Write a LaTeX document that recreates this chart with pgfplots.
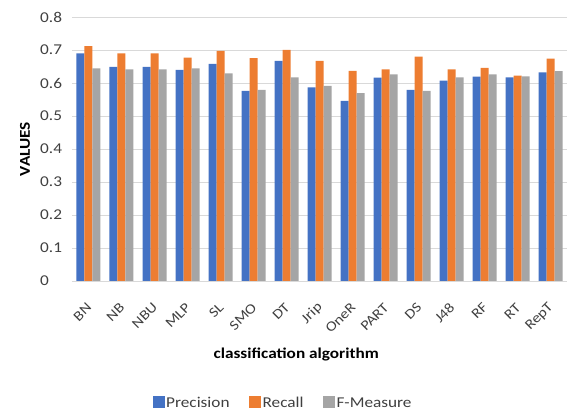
\documentclass[border=0pt]{standalone}
\usepackage{fontspec}
\setmainfont{Carlito}[FakeStretch=1.15]
\usepackage{pgfplots}
\usepackage{pgfplotstable}
\pgfplotsset{compat=1.18}

\definecolor{precblue}{HTML}{4472C4}
\definecolor{recorange}{HTML}{ED7D31}
\definecolor{fmgray}{HTML}{A5A5A5}
\definecolor{gridgray}{HTML}{D9D9D9}
\definecolor{labelgray}{HTML}{404040}

% Precision, recall and F-measure of each classification algorithm
\pgfplotstableread{
idx name P     R     F
0   BN   0.690 0.712 0.644
1   NB   0.649 0.690 0.641
2   NBU  0.649 0.690 0.641
3   MLP  0.640 0.677 0.644
4   SL   0.658 0.697 0.629
5   SMO  0.576 0.675 0.579
6   DT   0.667 0.700 0.617
7   Jrip 0.587 0.667 0.591
8   OneR 0.546 0.637 0.569
9   PART 0.616 0.641 0.626
10  DS   0.579 0.680 0.576
11  J48  0.607 0.641 0.617
12  RF   0.619 0.646 0.626
13  RT   0.617 0.622 0.620
14  RepT 0.632 0.674 0.636
}\results

\begin{document}
\begin{tikzpicture}
\begin{axis}[
  scale only axis,
  width=495pt, height=264pt,
  ybar=0pt, bar width=8pt,
  xmin=-0.5, xmax=14.5,
  ymin=0, ymax=0.8,
  ytick={0,0.1,0.2,0.3,0.4,0.5,0.6,0.7,0.8},
  yticklabels={0,0.1,0.2,0.3,0.4,0.5,0.6,0.7,0.8},
  xtick=data,
  xticklabels from table={\results}{name},
  axis line style={draw=none},
  major tick length=0pt,
  ymajorgrids,
  grid style={gridgray, line width=0.8pt},
  yticklabel style={font=\fontsize{15}{18}\selectfont, text=labelgray, anchor=west, inner sep=0pt, xshift=-32pt},
  xticklabel style={font=\fontsize{14}{16}\selectfont, text=labelgray, xshift=1.5pt, yshift=-23.5pt, rotate=45, anchor=east, inner sep=1pt},
  xlabel={\textbf{classification algorithm}},
  xlabel style={font=\fontsize{15}{18}\selectfont, text=black, at={(axis description cs:0.453,-0.28)}, anchor=center},
  ylabel={\textbf{VALUES}},
  ylabel style={font=\fontsize{15}{18}\selectfont, text=black, at={(axis description cs:-0.095,0.5)}, anchor=center, rotate=0},
  legend style={at={(axis description cs:0.426,-0.462)}, anchor=center, draw=none, fill=none,
    font=\fontsize{15}{18}\selectfont, text=labelgray, legend columns=3,
    nodes={inner sep=1.5pt},
    /tikz/every even column/.append style={column sep=18pt}},
  legend image code/.code={\fill[#1] (0pt,-5pt) rectangle (12pt,7pt);},
  clip=false,
]
\addplot[fill=precblue, draw=none] table[x=idx, y=P] {\results};
\addplot[fill=recorange, draw=none] table[x=idx, y=R] {\results};
\addplot[fill=fmgray, draw=none] table[x=idx, y=F] {\results};
\legend{Precision, Recall, F-Measure}
\end{axis}
% fixed page frame around the axis box
\pgfresetboundingbox
\path (current axis.south west) ++(-72pt,-134pt) (current axis.north east) ++(0pt,17pt);
\end{tikzpicture}
\end{document}
